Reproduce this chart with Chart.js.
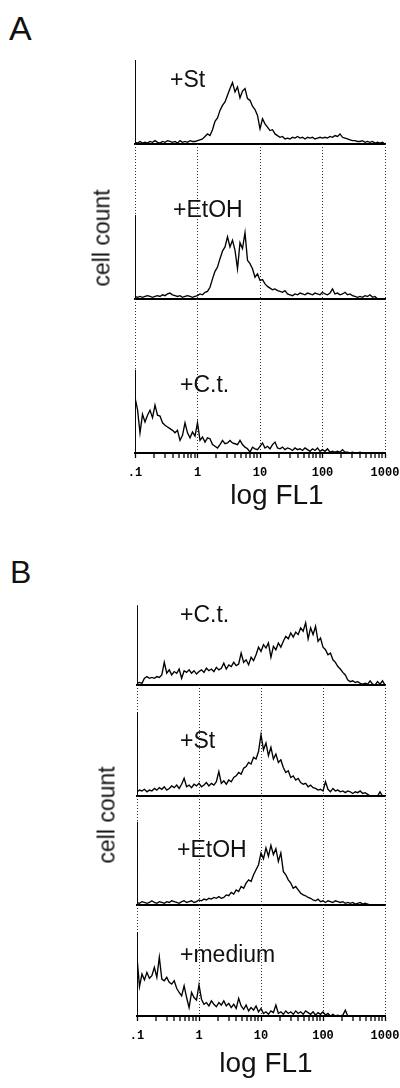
<!DOCTYPE html>
<html><head><meta charset="utf-8">
<script src="https://cdn.jsdelivr.net/npm/chart.js@4.4.1/dist/chart.umd.min.js"></script>
<style>
body{margin:0;background:#fff;}
#fig{position:relative;width:400px;height:1088px;overflow:hidden;background:#fff;font-family:'Liberation Sans',Arial,sans-serif;color:#111;}
canvas{position:absolute;left:0;}
.t{position:absolute;line-height:1;white-space:nowrap;z-index:5;}
</style></head><body><div id="fig"></div>
<script>
// ---- data ----
const decades=[0.1,1,10,100,1000];
const tickLabels=['.1','1','10','100','1000'];
const minorSteps=[2,3,4,5,6,7,8,9];
const labelsA=['+St','+EtOH','+C.t.'];
const labelsB=['+C.t.','+St','+EtOH','+medium'];
const spikesA=[100,100,99];
const spikesB=[95,100,99,100];
// histogram counts, 101 log-spaced channels from .1 to 1000
const aSt=[2,1,3,1,2,1,3,2,4,2,1,3,2,4,3,2,3,1,4,2,3,2,4,3,3,4,
 5,6,9,12,10,17,27,31,40,46,50,58,66,73,62,68,55,63,66,54,52,45,41,34,18,
 30,24,20,16,17,12,10,8,9,6,7,6,8,7,9,7,8,6,8,7,8,6,7,8,7,
 8,7,9,8,10,9,12,8,7,6,5,4,4,3,3,4,2,3,2,3,1,2,1,2,0];
const aEtOH=[3,2,3,2,3,4,3,2,3,4,3,5,4,6,7,5,4,3,4,2,3,4,3,2,3,4,
 6,5,8,9,14,24,33,38,48,57,62,74,62,70,58,36,67,60,79,46,42,36,26,30,22,
 23,18,15,13,11,12,10,9,8,10,6,5,4,6,5,7,6,5,7,6,5,7,6,5,8,
 6,5,7,12,6,7,5,6,8,5,6,4,3,2,3,2,4,3,5,2,3,0,0,0,0];
const aCt=[66,52,24,46,37,45,51,42,57,45,44,36,33,31,29,27,24,27,15,21,36,24,18,25,20,36,
 15,19,13,18,17,10,8,6,10,15,11,12,15,12,11,10,15,10,7,5,1,7,5,4,8,
 12,6,8,5,10,13,6,5,7,4,6,5,3,6,4,5,3,6,4,2,5,3,6,2,4,
 2,5,1,2,1,2,1,4,1,1,0,1,0,0,1,0,0,0,0,0,0,0,0,0,0];
const bCt=[2,3,2,8,10,8,9,8,10,9,12,27,14,18,12,16,14,19,8,17,15,18,14,17,13,16,
 18,15,20,17,19,16,21,18,20,26,19,24,22,27,23,25,38,27,30,24,33,29,36,45,40,
 48,44,50,33,46,42,50,45,52,58,55,62,57,63,60,68,64,74,55,68,60,70,52,56,45,
 42,36,38,30,27,22,19,15,12,6,4,5,3,4,2,1,2,1,5,1,0,4,1,5,0];
const bSt=[5,7,6,8,5,7,6,9,7,10,8,11,7,9,12,10,13,9,14,21,11,13,10,14,12,15,
 11,13,16,12,15,13,17,29,15,18,14,19,17,22,24,28,26,33,35,40,38,46,44,53,73,
 55,63,48,58,44,50,40,43,34,28,30,22,24,19,21,16,14,15,11,13,10,9,7,8,6,
 17,8,5,9,6,7,5,6,4,6,5,3,5,4,6,3,4,2,0,0,0,0,5,0,0];
const bEtOH=[3,2,4,3,2,3,5,3,2,4,3,2,4,3,5,4,3,2,4,5,3,4,5,3,4,6,
 5,7,6,8,7,9,8,10,8,9,12,11,15,13,18,16,22,20,26,30,28,36,42,48,62,
 55,68,58,71,60,67,52,62,40,36,30,26,20,22,18,14,12,11,9,8,6,5,7,4,5,
 3,5,4,3,5,4,3,4,2,3,2,3,1,2,3,1,2,1,0,0,0,0,0,0,0];
const bMedium=[70,35,50,43,52,45,48,58,46,70,44,42,46,40,38,42,33,28,24,36,22,10,28,22,19,37,
 20,14,16,12,18,14,11,16,13,18,12,15,10,14,9,21,12,8,13,6,10,7,12,5,9,
 3,5,2,6,4,13,3,5,2,6,3,5,2,6,3,5,2,6,4,2,5,1,4,2,5,
 1,3,0,2,0,1,0,1,7,0,0,0,0,0,0,0,0,0,0,0,0,0,0,0,0];

// ---- drawing ----
const fig=document.getElementById('fig');
const UNIT_PX=0.84;
function toPoints(vals){
  const lo=Math.log10(decades[0]), hi=Math.log10(decades[decades.length-1]);
  return vals.map((v,i)=>({x:Math.pow(10, lo+(hi-lo)*i/(vals.length-1)), y:v}));
}
function decadeIndex(v){return decades.findIndex(d=>Math.abs(v-d)/d<1e-6);}
function tickValues(){
  const t=[];
  decades.forEach((d,k)=>{t.push(d); if(k<decades.length-1) minorSteps.forEach(m=>t.push(+(d*m).toPrecision(6)));});
  return t;
}
function makePanel(cfg){
  const {left,top,bottom,series,spike,grid,axis}=cfg;
  const padTop=2,padBottom=3,axisH=axis?34:0;
  const h=bottom-top;
  const canvas=document.createElement('canvas');
  canvas.width=400; canvas.height=h+padTop+padBottom+axisH;
  canvas.style.top=(top-padTop)+'px';
  canvas.style.width='400px'; canvas.style.height=canvas.height+'px';
  fig.appendChild(canvas);
  new Chart(canvas,{
    type:'line',
    data:{datasets:[
      {data:toPoints(series),borderColor:'#000',borderWidth:1.35,pointRadius:0,tension:0,fill:false},
      {data:[{x:decades[0],y:0},{x:decades[0],y:spike}],borderColor:'#000',borderWidth:1.9,pointRadius:0,fill:false}
    ]},
    options:{
      responsive:false,animation:false,events:[],
      layout:{padding:{left:left,right:15,top:padTop,bottom:padBottom}},
      plugins:{legend:{display:false},tooltip:{enabled:false}},
      scales:{
        x:{type:'logarithmic',min:decades[0],max:decades[decades.length-1],
          afterBuildTicks:s=>{s.ticks=tickValues().map(v=>({value:v}));},
          afterFit:s=>{s.height=axisH;s.paddingLeft=0;s.paddingRight=0;},
          grid:{display:grid||axis,drawOnChartArea:grid,drawTicks:axis,tickLength:5,
            color:c=>(c.tick&&decadeIndex(c.tick.value)>=0)?'#333':'rgba(0,0,0,0)',
            lineWidth:c=>(c.tick&&decadeIndex(c.tick.value)>=0)?1:0,
            tickColor:'#000',tickWidth:1.3},
          border:{display:true,color:'#000',width:2,dash:[1,2]},
          ticks:{display:axis,autoSkip:false,maxRotation:0,minRotation:0,padding:8,color:'#000',
            font:{family:"'Liberation Mono','DejaVu Sans Mono',monospace",size:12,weight:'bold'},
            callback:v=>{const k=decadeIndex(v);return k>=0?tickLabels[k]:'';}}
        },
        y:{display:false,min:0,max:h/UNIT_PX}
      }
    }
  });
}
function addText(txt,x,baseline,size,extra){
  const d=document.createElement('div');
  d.className='t'; d.textContent=txt;
  d.style.fontSize=size+'px';
  d.style.left=x+'px';
  d.style.top=(baseline-0.8465*size)+'px';
  if(extra) Object.assign(d.style,extra);
  fig.appendChild(d);
}
function addRotated(txt,cx,cy,size){
  const d=document.createElement('div');
  d.className='t'; d.textContent=txt;
  d.style.fontSize=size+'px';
  d.style.left=cx+'px'; d.style.top=cy+'px';
  d.style.transform='translate(-50%,-50%) rotate(-90deg)';
  fig.appendChild(d);
}

// Panel A
const seriesA=[aSt,aEtOH,aCt];
const geomA=[[55,144],[144,299],[299,453]];
seriesA.forEach((s,k)=>makePanel({left:135,top:geomA[k][0],bottom:geomA[k][1],series:s,spike:spikesA[k],grid:k>0,axis:k===seriesA.length-1}));
// Panel B
const seriesB=[bCt,bSt,bEtOH,bMedium];
const geomB=[[600,685],[685,796],[796,905],[905,1016]];
seriesB.forEach((s,k)=>makePanel({left:137,top:geomB[k][0],bottom:geomB[k][1],series:s,spike:spikesB[k],grid:k>0,axis:k===seriesB.length-1}));

// text
addText('A',9,40,34);
addText('B',10,583,32);
const labPosA=[[170,87],[173,217],[180,392]];
labelsA.forEach((t,k)=>addText(t,labPosA[k][0],labPosA[k][1],23));
const labPosB=[[180,622],[180,748],[177,857],[180,962]];
labelsB.forEach((t,k)=>addText(t,labPosB[k][0],labPosB[k][1],23));
addRotated('cell count',102,238,23);
addRotated('cell count',107,815,23);
addText('log FL1',277,505,28,{transform:'translateX(-50%)'});
addText('log FL1',266,1073,28,{transform:'translateX(-50%)'});
</script></body></html>
